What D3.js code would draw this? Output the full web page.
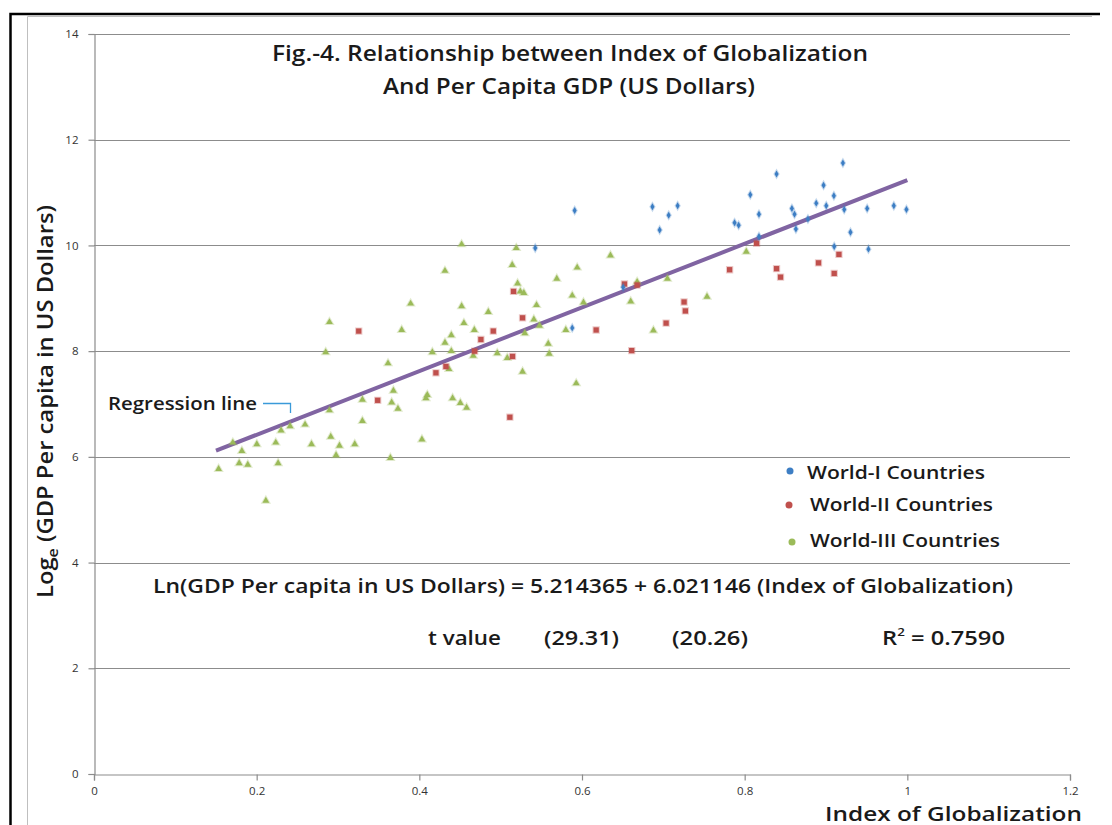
<!DOCTYPE html>
<html><head><meta charset="utf-8">
<script src="https://cdn.jsdelivr.net/npm/d3@7"></script>
<style>
html,body{margin:0;padding:0;background:#fff;}
svg{display:block;}
text{font-family:"Open Sans",sans-serif;}
</style></head>
<body>
<svg id="c" width="1112" height="825"></svg>
<script>
// ---------- data ----------
const worldI_x = [0.591,0.6866,0.7176,0.7066,0.6955,0.5425,0.6506,0.588,0.8392,0.9208,0.897,0.8069,0.9097,0.888,0.9003,0.8581,0.8176,0.8613,0.9224,0.9506,0.9834,0.9989,0.7876,0.7926,0.8778,0.863,0.9301,0.8176,0.9101,0.9522];
const worldI_y = [10.66,10.73,10.75,10.57,10.29,9.95,9.21,8.44,11.35,11.56,11.14,10.96,10.94,10.80,10.75,10.70,10.59,10.59,10.68,10.70,10.75,10.68,10.43,10.38,10.50,10.31,10.25,10.17,9.98,9.93];
const worldII_x = [0.5158,0.5269,0.3255,0.4909,0.4757,0.5146,0.4327,0.4204,0.3488,0.5113,0.468,0.6522,0.6678,0.6174,0.7034,0.6611,0.8147,0.9159,0.7815,0.8392,0.8441,0.8908,0.9101,0.7255,0.7271];
const worldII_y = [9.13,8.63,8.38,8.38,8.22,7.90,7.71,7.59,7.07,6.75,8.00,9.27,9.25,8.40,8.53,8.01,10.04,9.83,9.54,9.56,9.40,9.67,9.47,8.93,8.76];
const worldIII_x = [0.2895,0.2849,0.2895,0.2595,0.2411,0.230,0.2911,0.2674,0.2235,0.2002,0.1707,0.1818,0.3018,0.2976,0.1532,0.1785,0.1891,0.2264,0.2113,
 0.452,0.5192,0.5142,0.4315,0.5208,0.5241,0.5285,0.3893,0.452,0.4848,0.4548,0.3783,0.4676,0.4393,0.5297,0.4315,0.416,0.4393,0.4663,0.4958,0.5081,0.3615,0.4364,0.5269,0.3681,0.33,0.366,0.4098,0.4081,0.4409,0.3737,0.4504,0.4581,0.33,0.3206,0.4032,0.3644,
 0.635,0.5941,0.569,0.6678,0.705,0.588,0.5441,0.6018,0.6599,0.5408,0.5478,0.5801,0.6878,0.5585,0.5597,0.5929,0.802,0.7537];
const worldIII_y = [8.55,7.98,6.88,6.61,6.58,6.50,6.38,6.24,6.27,6.24,6.27,6.11,6.21,6.03,5.77,5.88,5.85,5.88,5.17,
 10.02,9.95,9.63,9.52,9.28,9.13,9.10,8.90,8.85,8.74,8.53,8.40,8.40,8.30,8.34,8.16,7.98,8.00,7.91,7.96,7.87,7.77,7.66,7.61,7.25,7.08,7.03,7.17,7.11,7.11,6.91,7.02,6.93,6.68,6.24,6.33,5.98,
 9.81,9.58,9.37,9.31,9.37,9.05,8.87,8.92,8.94,8.60,8.48,8.40,8.39,8.14,7.95,7.39,9.88,9.03];
const xTicks = [0,0.2,0.4,0.6,0.8,1,1.2];
const xTickLabels = ["0","0.2","0.4","0.6","0.8","1","1.2"];
const yTicks = [0,2,4,6,8,10,12,14];
const regIntercept = 5.214365, regSlope = 6.021146;
const regRange = [0.15, 1.0];
const seriesNames = ["World-I Countries","World-II Countries","World-III Countries"];
const titleLines = ["Fig.-4. Relationship between Index of Globalization","And Per Capita GDP (US Dollars)"];
const equationText = "Ln(GDP Per capita in US Dollars) = 5.214365 + 6.021146 (Index of Globalization)";
const tValues = ["(29.31)","(20.26)"];
const r2Value = "0.7590";

// ---------- layout ----------
const svg = d3.select("#c");
const x = d3.scaleLinear().domain([0,1.2]).range([94,1070]);
const y = d3.scaleLinear().domain([0,14]).range([774,34]);
const colors = ["#3d7ec4","#c0504d","#9bbb59"];

// frame
svg.append("path").attr("d","M10.5,825 V14 H1100").attr("fill","none").attr("stroke","#000").attr("stroke-width",2.5);
svg.append("path").attr("d","M27.5,825 V16.5 H1092").attr("fill","none").attr("stroke","#bfbfbf").attr("stroke-width",1);

// gridlines
svg.append("g").selectAll("line").data(yTicks.filter(d=>d>0)).join("line")
  .attr("x1",x(0)).attr("x2",x(1.2)).attr("y1",d=>Math.round(y(d))+0.5).attr("y2",d=>Math.round(y(d))+0.5)
  .attr("stroke","#8c8c8c").attr("stroke-width",1.2);

// axes
const yAxis = d3.axisLeft(y).tickValues(yTicks).tickSize(6).tickPadding(10);
const gy = svg.append("g").attr("transform",`translate(${Math.round(x(0))+0.5},0)`).call(yAxis);
const xAxis = d3.axisBottom(x).tickValues(xTicks).tickFormat((d,i)=>xTickLabels[i]).tickSize(6).tickPadding(6);
const gx = svg.append("g").attr("transform",`translate(0,${Math.round(y(0))+0.5})`).call(xAxis);
[gx,gy].forEach(g=>{
  g.select(".domain").attr("stroke","#8c8c8c").attr("stroke-width",1.2);
  g.selectAll(".tick line").attr("stroke","#8c8c8c").attr("stroke-width",1.2);
  g.selectAll(".tick text").attr("fill","#333").style("font-family","'Open Sans',sans-serif").style("font-size","11.5px");
});

// regression line
svg.append("line")
  .attr("x1",x(regRange[0])).attr("y1",y(regIntercept+regSlope*regRange[0]))
  .attr("x2",x(regRange[1])).attr("y2",y(regIntercept+regSlope*regRange[1]))
  .attr("stroke","#8064a2").attr("stroke-width",4);

// points
function drawSeries(xs, ys, type, size, color){
  const sym = d3.symbol().type(type).size(size);
  svg.append("g").selectAll("path").data(xs.map((v,i)=>[v,ys[i]])).join("path")
    .attr("d",sym)
    .attr("transform",d=>`translate(${x(d[0])},${y(d[1])})`)
    .attr("fill",color).attr("stroke",color).attr("stroke-opacity",0.3).attr("stroke-width",2);
}
drawSeries(worldIII_x, worldIII_y, d3.symbolTriangle, 20, colors[2]);
drawSeries(worldII_x, worldII_y, d3.symbolSquare, 28, colors[1]);
drawSeries(worldI_x, worldI_y, d3.symbolDiamond, 14, colors[0]);

// text helper
function txt(str, xs, yb, w, fs, weight){
  const t = svg.append("text").attr("x",xs).attr("y",yb).text(str)
    .style("font-size",fs+"px").style("font-weight",weight||600).attr("fill","#1a1a1a");
  if(w){ t.attr("textLength",w).attr("lengthAdjust","spacingAndGlyphs"); }
  return t;
}

// title
txt(titleLines[0], 272, 61, 596, 21);
txt(titleLines[1], 383, 94, 372, 21);

// equation
txt(equationText, 153, 593, 860, 19.5);
txt("t value", 428, 645, 73, 19.5);
txt(tValues[0], 544, 645, 75, 19.5);
txt(tValues[1], 672, 645, 76, 19.5);
const r2 = svg.append("text").attr("x",882).attr("y",645).style("font-size","19.5px").style("font-weight",600).attr("fill","#1a1a1a");
r2.append("tspan").text("R");
r2.append("tspan").text("2").attr("dy",-9).style("font-size","11px");
r2.append("tspan").text(" = " + r2Value).attr("dy",9);
r2.attr("textLength",123).attr("lengthAdjust","spacingAndGlyphs");

// legend
const legY = [471,505,542], legDotX=[790,789,792], legTextX=[807,810,810], legW=[178,183,190], legBase=[479,511,547];
seriesNames.forEach((n,i)=>{
  svg.append("circle").attr("cx",legDotX[i]).attr("cy",legY[i]).attr("r",3.5).attr("fill",colors[i]);
  txt(n, legTextX[i], legBase[i], legW[i], 18.5);
});

// regression annotation
txt("Regression line", 108, 410, 149, 17.5);
svg.append("path").attr("d","M263,403.5 H290.5 V413").attr("fill","none").attr("stroke","#3a9ad9").attr("stroke-width",1.3);

// axis titles
txt("Index of Globalization", 825, 820.5, 257, 20.5);
const gyl = svg.append("g").attr("transform","translate(53,598) rotate(-90)");
const yl = gyl.append("text").attr("x",0).attr("y",0).style("font-size","21px").style("font-weight",600).attr("fill","#1a1a1a");
yl.append("tspan").text("Log");
yl.append("tspan").text("e").attr("dy",5).style("font-size","14px");
yl.append("tspan").text(" (GDP Per capita in US Dollars)").attr("dy",-5);
yl.attr("textLength",393).attr("lengthAdjust","spacingAndGlyphs");
</script>
</body></html>
